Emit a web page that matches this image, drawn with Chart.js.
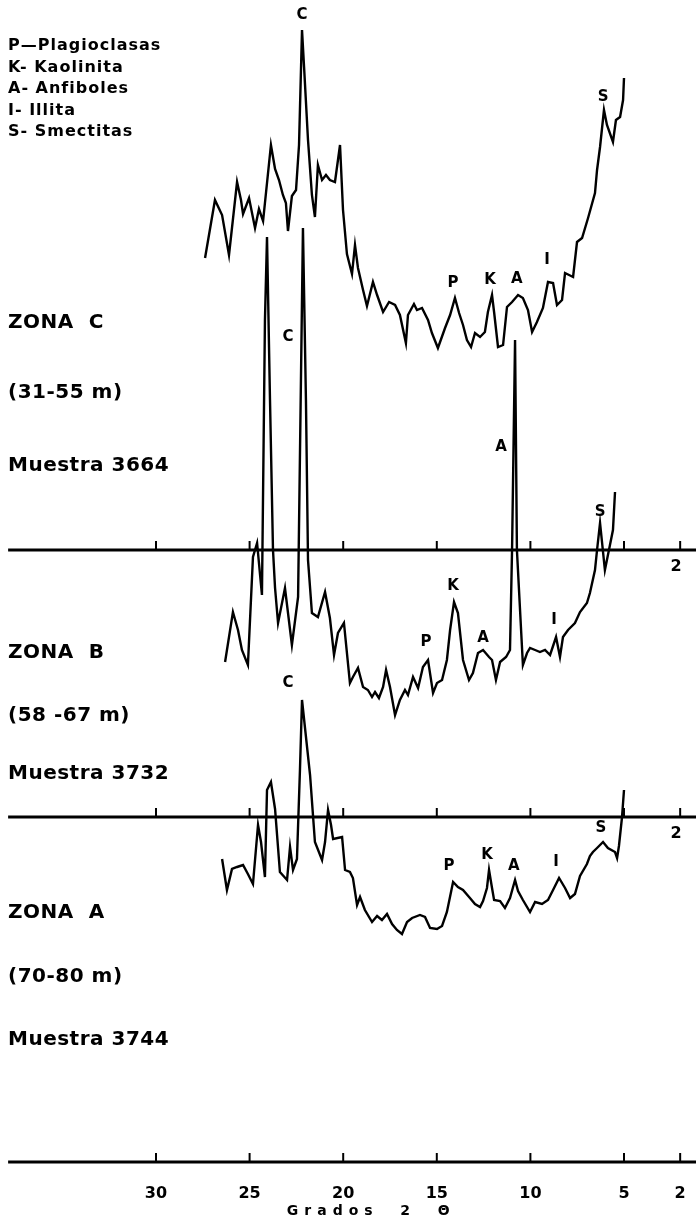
<!DOCTYPE html>
<html lang="es">
  <head>
    <meta charset="UTF-8" />
    <title>Difractogramas zonas A, B, C</title>
    <script src="https://cdn.jsdelivr.net/npm/chart.js@4.4.0/dist/chart.umd.min.js"></script>
    <style>
      html, body { margin: 0; padding: 0; background: #fff; }
      #wrap { width: 696px; height: 1217px; }
    </style>
  </head>
  <body>
    <div id="wrap"><canvas id="chart" width="696" height="1217"></canvas></div>

    <script>
      //data: [2θ (grados), intensidad sobre la linea base de cada zona]
      const zonaC = [
        [27.38, 292], [26.85, 350], [26.47, 335], [26.10, 295], [25.67, 368], [25.46, 350], [25.35, 336],
        [25.03, 352], [24.71, 322], [24.50, 341], [24.28, 329], [23.86, 405], [23.64, 381], [23.43, 370],
        [23.22, 355], [23.06, 347], [22.95, 319], [22.74, 354], [22.52, 360], [22.36, 405], [22.20, 520],
        [22.09, 483], [21.88, 410], [21.67, 355], [21.51, 333], [21.35, 385], [21.13, 370], [20.92, 375],
        [20.71, 370], [20.44, 368], [20.17, 405], [20.01, 340], [19.80, 296], [19.53, 276], [19.37, 305],
        [19.21, 282], [18.94, 260], [18.73, 244], [18.41, 268], [18.19, 255], [17.87, 238], [17.55, 248],
        [17.23, 245], [16.97, 235], [16.65, 207], [16.54, 235], [16.22, 246], [16.06, 240], [15.79, 242],
        [15.47, 230], [15.26, 217], [14.94, 202], [14.56, 222], [14.29, 235], [14.03, 252], [13.81, 237],
        [13.60, 225], [13.39, 210], [13.17, 203], [12.96, 217], [12.69, 213], [12.43, 218], [12.27, 238],
        [12.05, 255], [11.94, 238], [11.73, 203], [11.46, 205], [11.25, 243], [10.98, 248], [10.66, 255],
        [10.40, 252], [10.13, 240], [9.91, 218], [9.65, 228], [9.33, 242], [9.06, 268], [8.79, 267],
        [8.58, 245], [8.31, 250], [8.15, 277], [7.72, 273], [7.51, 308], [7.24, 312], [6.92, 332],
        [6.55, 357], [6.44, 380], [6.28, 403], [6.07, 440], [5.91, 425], [5.59, 408], [5.43, 430],
        [5.21, 433], [5.05, 450], [5.00, 472]
      ];

      const zonaB = [
        [26.31, 155], [25.89, 205], [25.62, 187], [25.41, 167], [25.09, 152], [24.82, 260], [24.60, 274],
        [24.34, 222], [24.18, 497], [24.07, 580], [23.91, 417], [23.75, 267], [23.64, 229], [23.48, 194],
        [23.11, 229], [22.74, 172], [22.41, 220], [22.15, 589], [21.99, 417], [21.88, 257], [21.67, 204],
        [21.35, 200], [20.97, 225], [20.71, 199], [20.49, 162], [20.28, 184], [19.96, 194], [19.64, 134],
        [19.48, 140], [19.21, 149], [18.94, 130], [18.68, 127], [18.46, 120], [18.30, 125], [18.09, 119],
        [17.87, 130], [17.71, 147], [17.50, 130], [17.23, 102], [16.97, 117], [16.70, 127], [16.54, 122],
        [16.27, 140], [16.00, 129], [15.74, 150], [15.47, 157], [15.20, 124], [14.99, 134], [14.72, 137],
        [14.46, 157], [14.29, 187], [14.08, 215], [13.87, 204], [13.60, 157], [13.28, 137], [13.07, 144],
        [12.80, 164], [12.53, 167], [12.21, 160], [12.05, 157], [11.84, 137], [11.62, 155], [11.30, 160],
        [11.09, 167], [10.98, 267], [10.82, 477], [10.72, 267], [10.40, 152], [10.18, 164], [10.02, 169],
        [9.75, 167], [9.49, 165], [9.22, 167], [8.95, 162], [8.63, 180], [8.42, 160], [8.26, 180],
        [7.99, 187], [7.62, 194], [7.35, 205], [6.98, 214], [6.82, 224], [6.55, 247], [6.44, 267],
        [6.28, 294], [6.02, 247], [5.75, 272], [5.59, 287], [5.48, 325]
      ];

      const zonaA = [
        [26.47, 303], [26.21, 272], [25.94, 293], [25.67, 295], [25.35, 297], [25.09, 288], [24.82, 278],
        [24.55, 337], [24.39, 320], [24.18, 285], [24.07, 372], [23.86, 380], [23.64, 353], [23.38, 290],
        [23.00, 282], [22.84, 315], [22.68, 292], [22.47, 303], [22.31, 392], [22.20, 462], [21.77, 387],
        [21.51, 320], [21.13, 302], [20.97, 320], [20.81, 352], [20.65, 337], [20.54, 323], [20.06, 325],
        [19.90, 292], [19.64, 290], [19.48, 284], [19.26, 257], [19.10, 265], [18.84, 252], [18.46, 240],
        [18.19, 246], [17.93, 242], [17.66, 248], [17.39, 238], [17.13, 232], [16.86, 228], [16.59, 240],
        [16.32, 244], [15.90, 247], [15.63, 245], [15.36, 234], [14.99, 233], [14.72, 236], [14.46, 250],
        [14.13, 280], [13.87, 275], [13.60, 272], [13.23, 264], [12.96, 258], [12.69, 255], [12.53, 261],
        [12.32, 274], [12.21, 292], [12.05, 274], [11.94, 262], [11.62, 261], [11.36, 254], [11.09, 264],
        [10.82, 282], [10.66, 271], [10.40, 262], [10.02, 250], [9.75, 260], [9.38, 258], [9.06, 262],
        [8.79, 272], [8.47, 284], [8.15, 274], [7.88, 264], [7.62, 268], [7.35, 286], [6.98, 298],
        [6.82, 306], [6.66, 310], [6.44, 314], [6.12, 320], [5.86, 314], [5.48, 310], [5.37, 304],
        [5.27, 316], [5.11, 344], [5.00, 372]
      ];

      // picos identificados: [letra, 2θ, intensidad]
      const picosC = [['C', 22.20, 535], ['P', 14.13, 267], ['K', 12.16, 270], ['A', 10.72, 271], ['I', 9.11, 290], ['S', 6.12, 453]];
      const picosB = [['C', 22.95, 480], ['A', 11.57, 370], ['S', 6.28, 305], ['P', 15.58, 175], ['K', 14.13, 231], ['A', 12.53, 179], ['I', 8.74, 197]];
      const picosA = [['C', 22.95, 479], ['P', 14.35, 296], ['K', 12.32, 307], ['A', 10.88, 296], ['I', 8.63, 300], ['S', 6.23, 334]];

      const ejeTicks = [30, 25, 20, 15, 10, 5, 2];
      const leyenda = ['P\u2014Plagioclasas', 'K- Kaolinita', 'A- Anfiboles', 'I- Illita', 'S- Smectitas'];
      const zonas = [
        ['ZONA  C', '(31-55 m)', 'Muestra 3664'],
        ['ZONA  B', '(58 -67 m)', 'Muestra 3732'],
        ['ZONA  A', '(70-80 m)', 'Muestra 3744']
      ];

      // linea base de cada zona en la escala comun
      const baseC = 612;
      const baseB = 345;
      const baseA = 0;

      const FONT = '"DejaVu Sans", sans-serif';

      function serie(puntos, base) {
        return puntos.map(p => ({ x: p[0], y: p[1] + base }));
      }

      function dataset(puntos, base) {
        return {
          data: serie(puntos, base),
          borderColor: '#000',
          borderWidth: 2.4,
          pointRadius: 0,
          tension: 0,
          fill: false
        };
      }

      const overlay = {
        id: 'overlay',
        afterDatasetsDraw(chart) {
          const { ctx, scales: { x, y } } = chart;
          ctx.save();
          ctx.fillStyle = '#000';
          ctx.strokeStyle = '#000';

          // ejes
          [baseC, baseB, baseA].forEach((b, i) => {
            const py = y.getPixelForValue(b);
            ctx.lineWidth = 3;
            ctx.beginPath();
            ctx.moveTo(x.getPixelForValue(37.9), py);
            ctx.lineTo(chart.width, py);
            ctx.stroke();
            ctx.lineWidth = 2;
            ejeTicks.forEach(t => {
              const px = x.getPixelForValue(t);
              ctx.beginPath();
              ctx.moveTo(px, py);
              ctx.lineTo(px, py - 9);
              ctx.stroke();
            });
            ctx.font = 'bold 16px ' + FONT;
            ctx.textAlign = 'center';
            ctx.textBaseline = 'middle';
            if (i < 2) {
              ctx.fillText('2', x.getPixelForValue(2) - 4, py + 17);
            } else {
              ejeTicks.forEach(t => ctx.fillText(String(t), x.getPixelForValue(t), py + 32));
            }
          });

          // titulo del eje
          ctx.font = 'bold 14px ' + FONT;
          ctx.letterSpacing = '6px';
          ctx.textAlign = 'center';
          ctx.fillText('Grados  2  \u0398', x.getPixelForValue(18.5), y.getPixelForValue(baseA) + 49);
          ctx.letterSpacing = '0px';

          // letras de los picos
          ctx.font = 'bold 15px ' + FONT;
          [[picosC, baseC], [picosB, baseB], [picosA, baseA]].forEach(([picos, b]) => {
            picos.forEach(([l, t, v]) => {
              ctx.fillText(l, x.getPixelForValue(t), y.getPixelForValue(v + b));
            });
          });

          // leyenda
          ctx.textAlign = 'left';
          ctx.font = 'bold 16px ' + FONT;
          ctx.letterSpacing = '1px';
          leyenda.forEach((s, i) => ctx.fillText(s, 8, 46 + i * 21.5));

          // textos de zona
          ctx.font = 'bold 20px ' + FONT;
          ctx.letterSpacing = '0.5px';
          const zonaY = [[323, 393, 466], [653, 716, 774], [913, 977, 1040]];
          zonas.forEach((z, i) => {
            z.forEach((s, j) => ctx.fillText(s, 8, zonaY[i][j]));
          });
          ctx.restore();
        }
      };

      //config
      const config = {
        type: 'line',
        data: {
          datasets: [dataset(zonaC, baseC), dataset(zonaB, baseB), dataset(zonaA, baseA)]
        },
        options: {
          responsive: false,
          animation: false,
          devicePixelRatio: 1,
          layout: { padding: 0 },
          scales: {
            x: { type: 'linear', reverse: true, min: 1.154, max: 38.333, display: false },
            y: { type: 'linear', min: -55, max: 1162, display: false }
          },
          plugins: {
            legend: { display: false },
            tooltip: { enabled: false }
          }
        },
        plugins: [overlay]
      };

      //init
      const chart = new Chart(document.getElementById('chart'), config);
    </script>
  </body>
</html>
